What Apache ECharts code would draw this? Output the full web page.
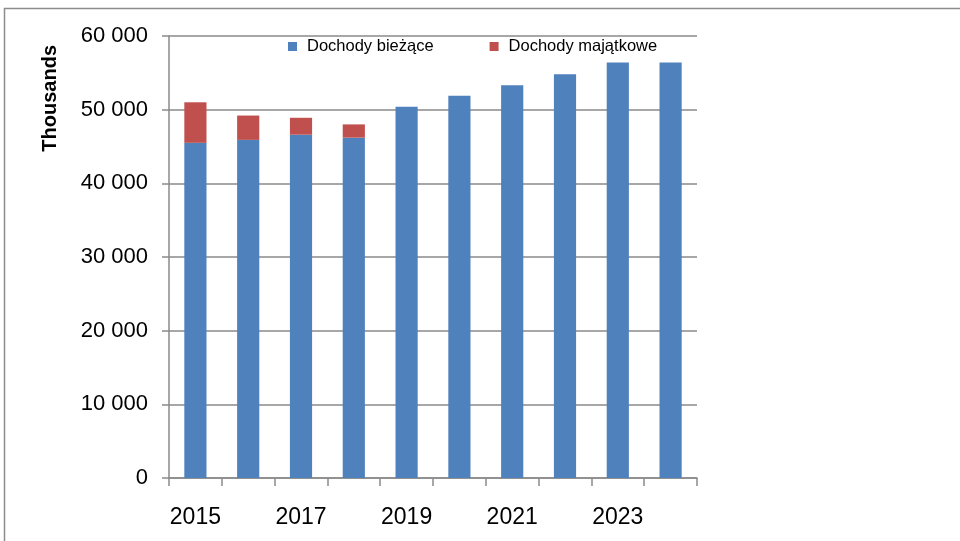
<!DOCTYPE html>
<html><head><meta charset="utf-8">
<script src="https://cdn.jsdelivr.net/npm/echarts@6/dist/echarts.min.js"></script>
<style>html,body{margin:0;padding:0;background:#fff}#c{width:960px;height:541px}</style>
</head><body><div id="c"></div>
<script>
const categories = ['2015','2016','2017','2018','2019','2020','2021','2022','2023','2024'];
const biezace = [45500, 45900, 46600, 46200, 50400, 51900, 53300, 54800, 56400, 56400];
const majatkowe = [5500, 3300, 2300, 1800, 0, 0, 0, 0, 0, 0];
const seriesNames = ['Dochody bieżące', 'Dochody majątkowe'];
const yAxisTitle = 'Thousands';

const chart = echarts.init(document.getElementById('c'), null, {renderer:'canvas'});
const gray = '#8a8a8a';
const font = 'Liberation Sans';
chart.setOption({
  animation: false,
  backgroundColor: '#fff',
  grid: {left: 169, right: 263, top: 36, bottom: 63, containLabel: false},
  legend: {
    left: 283, top: 33, itemWidth: 9, itemHeight: 9, itemGap: 56, icon: 'rect',
    textStyle: {fontFamily: font, fontSize: 16.5, color: '#000', padding: [0,0,0,5]},
    data: seriesNames
  },
  xAxis: {
    type: 'category', data: categories,
    axisLine: {lineStyle: {color: gray, width: 1.5}},
    axisTick: {show: true, length: 8, interval: 0, alignWithLabel: false, lineStyle: {color: gray, width: 1.5}},
    axisLabel: {interval: 1, margin: 28, fontFamily: font, fontSize: 23, color: '#000'}
  },
  yAxis: {
    type: 'value', min: 0, max: 60000, interval: 10000,
    axisLine: {show: true, lineStyle: {color: gray, width: 1.5}},
    axisTick: {show: true, length: 7, lineStyle: {color: gray, width: 1.5}},
    splitLine: {lineStyle: {color: gray, width: 1.5}},
    axisLabel: {margin: 21, fontFamily: font, fontSize: 22, color: '#000',
      formatter: v => v === 0 ? '0' : String(v).replace(/\B(?=(\d{3})+(?!\d))/g, ' ')}
  },
  graphic: [
    {type: 'rect', silent: true, z: -1, shape: {x: 4.5, y: 8.5, width: 1000, height: 600},
     style: {fill: 'none', stroke: '#8c8c8c', lineWidth: 1.5}},
    {type: 'text', left: 40, top: 45, rotation: Math.PI/2,
     style: {text: yAxisTitle, font: 'bold 20px "Liberation Sans"', fill: '#000'}}
  ],
  series: [
    {name: seriesNames[0], type: 'bar', stack: 's', data: biezace, barWidth: '42%',
     itemStyle: {color: '#4F81BD'}},
    {name: seriesNames[1], type: 'bar', stack: 's', data: majatkowe, barWidth: '42%',
     itemStyle: {color: '#C0504D'}}
  ]
});
</script></body></html>
